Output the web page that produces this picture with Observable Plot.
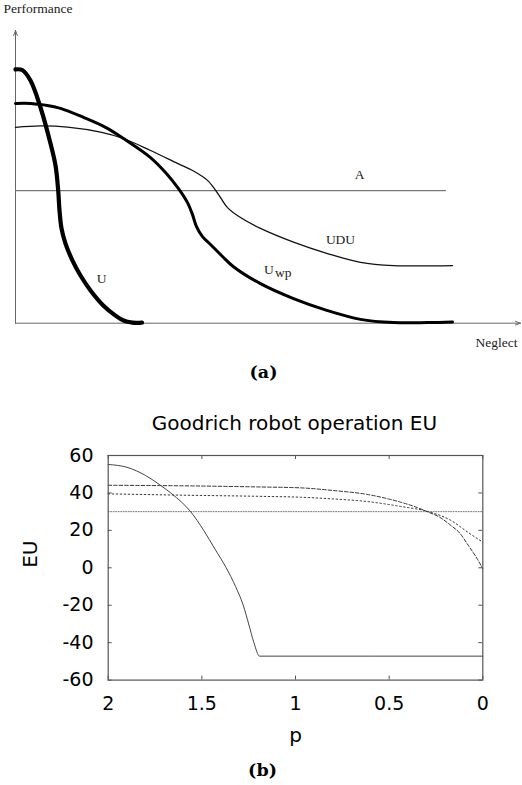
<!DOCTYPE html>
<html><head><meta charset="utf-8">
<script src="https://cdn.jsdelivr.net/npm/d3@7"></script>
<script src="https://cdn.jsdelivr.net/npm/@observablehq/plot@0.6"></script>
<style>
html,body{margin:0;padding:0;background:#fff;}
#wrap{position:relative;width:522px;height:785px;overflow:hidden;background:#fff;}
#a{position:absolute;left:0;top:0;}
#b{position:absolute;left:0;top:390px;}
svg{display:block;}
</style></head><body>
<div id="wrap"><div id="a"></div><div id="b"></div></div>
<script>
// ---------- Panel (a): conceptual Performance vs Neglect ----------
const uNeglect = [0, 0.134, 0.3, 0.5, 0.7, 0.8, 0.854, 0.88, 0.92, 1.0, 1.14, 1.3, 1.5, 1.76, 2.0, 2.16, 2.34, 2.53];
const uPerf    = [8.67, 8.65, 8.29, 7.37, 6.14, 5.39, 4.53, 3.85, 3.24, 2.72, 2.14, 1.63, 1.12, 0.6, 0.26, 0.09, 0.02, 0.02];

const uwpNeglect = [0, 0.3, 0.6, 0.9, 1.36, 1.8, 2.16, 2.7, 3.0, 3.26, 3.44, 3.54, 3.62, 3.74, 3.9, 4.14, 4.36, 4.9, 5.56, 6.24, 6.9, 7.56, 8.24, 8.74];
const uwpPerf    = [7.51, 7.51, 7.45, 7.34, 7.03, 6.69, 6.31, 5.66, 5.15, 4.6, 4.12, 3.71, 3.3, 2.96, 2.69, 2.28, 1.93, 1.35, 0.84, 0.43, 0.13, 0.02, 0.02, 0.04];

const uduNeglect = [0, 0.5, 1.04, 1.7, 2.16, 2.7, 3.24, 3.56, 3.84, 3.96, 4.1, 4.24, 4.5, 4.9, 5.56, 6.24, 6.9, 7.56, 8.74];
const uduPerf    = [6.69, 6.74, 6.7, 6.53, 6.31, 5.9, 5.46, 5.2, 4.88, 4.64, 4.29, 3.95, 3.61, 3.24, 2.77, 2.38, 2.08, 1.97, 1.97];

const aNeglect = [0, 8.6];
const aPerf    = [4.53, 4.53];

const axisEnds = {neglectMax: 10.1, perfMax: 10};

const curveLabels = ["A", "UDU", "U", "U"];
const curveLabelNeglect = [6.88, 6.5, 4.97, 1.72];
const curveLabelPerf    = [4.93, 2.71, 1.69, 1.37];

const zip = (xs, ys) => xs.map((x, i) => ({x, y: ys[i]}));

const plotA = Plot.plot({
  width: 522, height: 390,
  marginLeft: 15, marginRight: 2, marginTop: 30, marginBottom: 67.3,
  x: {domain: [0, axisEnds.neglectMax], axis: null},
  y: {domain: [0, axisEnds.perfMax], axis: null},
  style: {fontFamily: "'Liberation Serif', 'Times New Roman', serif", fontSize: "13.5px", background: "white", color: "#000"},
  marks: [
    Plot.arrow([{x1: 0, y1: 0, x2: 0, y2: axisEnds.perfMax}, {x1: 0, y1: 0, x2: axisEnds.neglectMax, y2: 0}],
      {x1: "x1", y1: "y1", x2: "x2", y2: "y2", stroke: "#666", strokeWidth: 1, headLength: 8, headAngle: 40}),
    Plot.line(zip(aNeglect, aPerf), {x: "x", y: "y", stroke: "#777", strokeWidth: 1.2}),
    Plot.line(zip(uduNeglect, uduPerf), {x: "x", y: "y", curve: "catmull-rom", stroke: "#111", strokeWidth: 1.3}),
    Plot.line(zip(uwpNeglect, uwpPerf), {x: "x", y: "y", curve: "catmull-rom", stroke: "#000", strokeWidth: 3}),
    Plot.line(zip(uNeglect, uPerf), {x: "x", y: "y", curve: "catmull-rom", stroke: "#000", strokeWidth: 4.2}),
    Plot.text([0, 1], {x: i => curveLabelNeglect[i], y: i => curveLabelPerf[i], text: i => curveLabels[i], lineAnchor: "bottom", fill: "#222"}),
    Plot.text([2], {x: i => curveLabelNeglect[i], y: i => curveLabelPerf[i], text: i => curveLabels[i], textAnchor: "start", lineAnchor: "bottom", fill: "#222"}),
    Plot.text(["wp"], {x: curveLabelNeglect[2], y: curveLabelPerf[2], text: d => d, textAnchor: "start", lineAnchor: "bottom", dx: 11, dy: 3.5, fill: "#222"}),
    Plot.text([3], {x: i => curveLabelNeglect[i], y: i => curveLabelPerf[i], text: i => curveLabels[i], lineAnchor: "bottom", fill: "#222"}),
    Plot.text(["Performance"], {frameAnchor: "top-left", text: d => d, textAnchor: "start", lineAnchor: "bottom", dx: -12, dy: -17.3, fill: "#222"}),
    Plot.text(["Neglect"], {frameAnchor: "bottom-right", text: d => d, textAnchor: "end", lineAnchor: "bottom", dx: -3, dy: 23.3, fill: "#222"}),
    Plot.text(["(a)"], {frameAnchor: "bottom", text: d => d, lineAnchor: "middle", dx: -4.5, dy: 49, fontFamily: "'DejaVu Serif', serif", fontWeight: "bold", fontSize: 17.5})
  ]
});
document.getElementById("a").appendChild(plotA);

// ---------- Panel (b): Goodrich robot operation EU ----------
const pTicks = [2, 1.5, 1, 0.5, 0];
const euTicks = [-60, -40, -20, 0, 20, 40, 60];

const solidP  = [2, 1.9, 1.8, 1.72, 1.66, 1.56, 1.49, 1.43, 1.37, 1.32, 1.279, 1.25, 1.222, 1.192, 0];
const solidEU = [55.2, 53.7, 49.3, 44, 39.5, 30, 20, 10, 0, -10, -20, -30, -40, -47.2, -47.2];

const dashedP  = [2, 1.6, 1.2, 0.97, 0.8, 0.617, 0.5, 0.44, 0.35, 0.297, 0.23, 0.17, 0.12, 0.083, 0.03, 0];
const dashedEU = [44.1, 43.8, 43.2, 42.7, 41.3, 39.2, 36.7, 35.1, 32.2, 30, 27, 22.6, 18.2, 12.8, 4.8, -0.5];

const dottedP  = [2, 1.6, 1.2, 0.97, 0.8, 0.617, 0.44, 0.29, 0.17, 0.08, 0];
const dottedEU = [39.5, 38.8, 38.2, 37.7, 36.8, 35.4, 32.8, 30, 25.3, 19, 13.7];

const flatP  = [2, 0];
const flatEU = [30, 30];

const titleB = "Goodrich robot operation EU";
const xLabelB = "p";
const yLabelB = "EU";

const frameW = 522 - 107.7 - 39.7;
const frameH = 395 - 65 - 105.4;
const tickLen = 4;

const plotB = Plot.plot({
  width: 522, height: 395,
  marginLeft: 107.7, marginRight: 39.7, marginTop: 65, marginBottom: 105.4,
  x: {domain: [2, 0], axis: null},
  y: {domain: [-60, 60], axis: null},
  style: {fontFamily: "'DejaVu Sans', sans-serif", fontSize: "19px", background: "white", color: "#000"},
  marks: [
    Plot.line(zip(flatP, flatEU), {x: "x", y: "y", stroke: "#777", strokeWidth: 1, strokeDasharray: "1,1.5"}),
    Plot.line(zip(dottedP, dottedEU), {x: "x", y: "y", curve: "monotone-x", stroke: "#333", strokeWidth: 1, strokeDasharray: "1.5,2.5"}),
    Plot.line(zip(dashedP, dashedEU), {x: "x", y: "y", curve: "monotone-x", stroke: "#333", strokeWidth: 1, strokeDasharray: "3.5,2"}),
    Plot.line(zip(solidP, solidEU), {x: "x", y: "y", curve: "monotone-x", stroke: "#444", strokeWidth: 1}),
    // inward ticks on all four sides
    Plot.ruleX(pTicks, {x: d => d, insetTop: frameH - tickLen, stroke: "#555"}),
    Plot.ruleX(pTicks, {x: d => d, insetBottom: frameH - tickLen, stroke: "#555"}),
    Plot.ruleY(euTicks, {y: d => d, insetRight: frameW - tickLen, stroke: "#555"}),
    Plot.ruleY(euTicks, {y: d => d, insetLeft: frameW - tickLen, stroke: "#555"}),
    Plot.axisX({ticks: pTicks, anchor: "bottom", tickSize: 0, tickPadding: 16.4, tickFormat: d => String(d), label: null, fontSize: 19, fill: "#000"}),
    Plot.axisY({ticks: euTicks, anchor: "left", tickSize: 0, tickPadding: 14.7, tickFormat: d => String(d), label: null, fontSize: 19, fill: "#000"}),
    Plot.frame({stroke: "#555", strokeWidth: 1.2}),
    Plot.text([titleB], {frameAnchor: "top", text: d => d, lineAnchor: "bottom", dx: -1, dy: -26, fontSize: 20}),
    Plot.text([xLabelB], {frameAnchor: "bottom", text: d => d, lineAnchor: "bottom", dy: 62, fontSize: 20}),
    Plot.text([yLabelB], {frameAnchor: "left", text: d => d, lineAnchor: "middle", rotate: -90, dx: -77.7, fontSize: 20}),
    Plot.text(["(b)"], {frameAnchor: "bottom", text: d => d, lineAnchor: "middle", dx: -33, dy: 90.4, fontFamily: "'DejaVu Serif', serif", fontWeight: "bold", fontSize: 17.5})
  ]
});
document.getElementById("b").appendChild(plotB);
</script>
</body></html>
